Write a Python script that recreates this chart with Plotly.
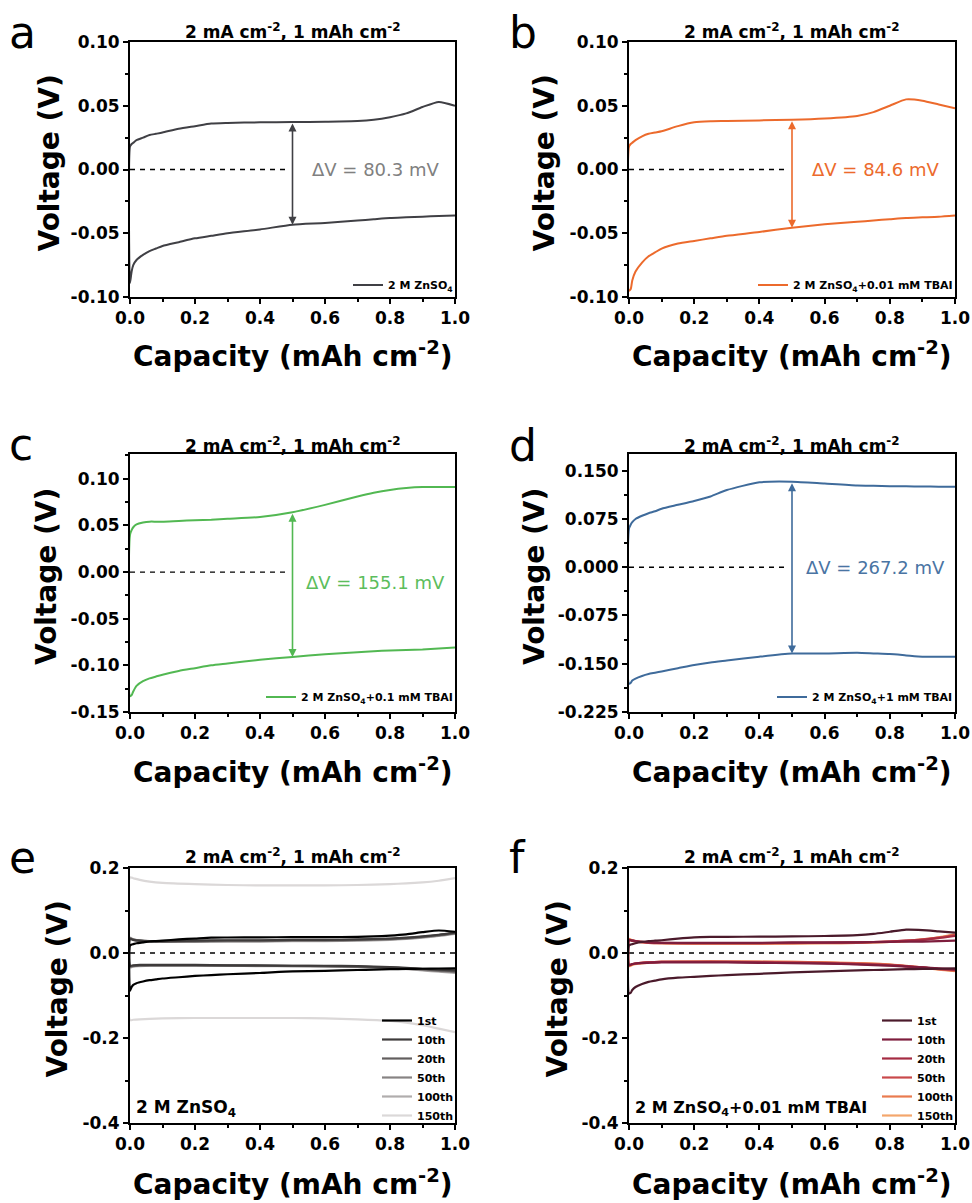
import plotly.graph_objects as go

# the page body margin is removed on load (see post_script), so the figure fills the window
OFF = 0
W, H = 972, 1203

# ---------------- data ----------------
CAP = [0, 0.005, 0.01, 0.02, 0.04, 0.06, 0.08, 0.1, 0.15, 0.2, 0.25, 0.3,
       0.4, 0.5, 0.6, 0.7, 0.75, 0.8, 0.85, 0.9, 0.95, 1.0]

# panel a: 2 M ZnSO4
A_UP = [0.018, 0.020, 0.021, 0.023, 0.025, 0.027, 0.028, 0.029, 0.032, 0.034, 0.036, 0.0365,
        0.037, 0.0372, 0.0375, 0.038, 0.039, 0.041, 0.044, 0.049, 0.053, 0.050]
A_DN = [-0.089, -0.080, -0.075, -0.071, -0.067, -0.064, -0.062, -0.060, -0.057, -0.054, -0.052, -0.050,
        -0.047, -0.0433, -0.042, -0.040, -0.039, -0.038, -0.0375, -0.037, -0.0365, -0.036]
# panel b: + 0.01 mM TBAI
B_UP = [0.018, 0.020, 0.021, 0.023, 0.026, 0.028, 0.029, 0.030, 0.034, 0.037, 0.0378, 0.038,
        0.0385, 0.039, 0.040, 0.042, 0.045, 0.050, 0.055, 0.054, 0.051, 0.048]
B_DN = [-0.095, -0.094, -0.087, -0.080, -0.073, -0.068, -0.065, -0.062, -0.058, -0.056, -0.054, -0.052,
        -0.049, -0.0456, -0.043, -0.041, -0.040, -0.039, -0.038, -0.0375, -0.037, -0.036]
# panel c: + 0.1 mM TBAI
C_UP = [0.040, 0.045, 0.048, 0.051, 0.053, 0.054, 0.054, 0.054, 0.0548, 0.0555, 0.056, 0.057,
        0.059, 0.0641, 0.072, 0.081, 0.085, 0.088, 0.090, 0.091, 0.091, 0.091]
C_DN = [-0.133, -0.132, -0.128, -0.122, -0.117, -0.114, -0.112, -0.110, -0.106, -0.103, -0.100, -0.098,
        -0.094, -0.091, -0.088, -0.086, -0.085, -0.084, -0.0835, -0.083, -0.082, -0.081]
# panel d: + 1 mM TBAI
D_UP = [0.060, 0.066, 0.070, 0.075, 0.080, 0.084, 0.087, 0.091, 0.097, 0.103, 0.110, 0.120,
        0.132, 0.133, 0.130, 0.127, 0.1265, 0.126, 0.1258, 0.1255, 0.1252, 0.125]
D_DN = [-0.181, -0.180, -0.176, -0.173, -0.169, -0.166, -0.164, -0.162, -0.157, -0.152, -0.148, -0.145,
        -0.139, -0.1342, -0.134, -0.133, -0.134, -0.135, -0.137, -0.139, -0.139, -0.139]

CAP_CYC = [0, 0.01, 0.03, 0.06, 0.1, 0.2, 0.3, 0.4, 0.5, 0.6, 0.7, 0.8, 0.85, 0.9, 0.95, 1.0]

# panel e: 2 M ZnSO4 cycles (1st cycle = panel a)
E10_UP = [0.033, 0.031, 0.029, 0.028, 0.028, 0.029, 0.030, 0.030, 0.031, 0.031, 0.032, 0.034, 0.036, 0.039, 0.043, 0.048]
E10_DN = [-0.030, -0.029, -0.028, -0.028, -0.028, -0.028, -0.029, -0.029, -0.030, -0.030, -0.031, -0.033, -0.035, -0.037, -0.039, -0.041]
E20_UP = [0.034, 0.031, 0.029, 0.028, 0.027, 0.028, 0.029, 0.029, 0.030, 0.030, 0.031, 0.033, 0.035, 0.038, 0.042, 0.047]
E20_DN = [-0.031, -0.030, -0.029, -0.029, -0.029, -0.029, -0.029, -0.030, -0.030, -0.031, -0.032, -0.034, -0.036, -0.038, -0.041, -0.043]
E50_UP = [0.035, 0.032, 0.029, 0.027, 0.027, 0.027, 0.028, 0.028, 0.029, 0.029, 0.030, 0.032, 0.034, 0.037, 0.041, 0.046]
E50_DN = [-0.032, -0.031, -0.030, -0.029, -0.029, -0.029, -0.030, -0.030, -0.031, -0.031, -0.032, -0.035, -0.037, -0.040, -0.042, -0.045]
E100_UP = [0.036, 0.032, 0.029, 0.027, 0.026, 0.026, 0.027, 0.027, 0.028, 0.028, 0.029, 0.031, 0.033, 0.036, 0.040, 0.045]
E100_DN = [-0.034, -0.032, -0.031, -0.030, -0.030, -0.030, -0.030, -0.031, -0.031, -0.032, -0.033, -0.036, -0.038, -0.041, -0.044, -0.047]
E150_UP = [0.178, 0.176, 0.172, 0.168, 0.165, 0.162, 0.160, 0.159, 0.159, 0.159, 0.160, 0.162, 0.164, 0.166, 0.170, 0.176]
E150_DN = [-0.158, -0.157, -0.156, -0.155, -0.154, -0.153, -0.153, -0.153, -0.153, -0.154, -0.156, -0.160, -0.164, -0.170, -0.178, -0.186]

# panel f: + 0.01 mM TBAI cycles (1st cycle = panel b)
F10_UP = [0.030, 0.029, 0.027, 0.025, 0.024, 0.024, 0.024, 0.024, 0.025, 0.025, 0.025, 0.026, 0.027, 0.027, 0.028, 0.029]
F10_DN = [-0.028, -0.026, -0.024, -0.023, -0.022, -0.022, -0.022, -0.023, -0.024, -0.025, -0.027, -0.030, -0.032, -0.034, -0.036, -0.038]
F20_UP = [0.031, 0.029, 0.027, 0.025, 0.024, 0.023, 0.023, 0.023, 0.024, 0.024, 0.025, 0.027, 0.029, 0.031, 0.035, 0.040]
F20_DN = [-0.029, -0.026, -0.024, -0.022, -0.021, -0.021, -0.021, -0.022, -0.023, -0.024, -0.026, -0.029, -0.031, -0.034, -0.037, -0.040]
F50_UP = [0.031, 0.029, 0.026, 0.024, 0.023, 0.023, 0.023, 0.023, 0.023, 0.024, 0.025, 0.027, 0.029, 0.032, 0.036, 0.042]
F50_DN = [-0.029, -0.026, -0.024, -0.022, -0.021, -0.021, -0.021, -0.021, -0.022, -0.023, -0.025, -0.028, -0.031, -0.034, -0.038, -0.041]
F100_UP = [0.032, 0.029, 0.026, 0.024, 0.023, 0.022, 0.022, 0.022, 0.023, 0.023, 0.024, 0.026, 0.028, 0.031, 0.036, 0.043]
F100_DN = [-0.030, -0.027, -0.024, -0.022, -0.021, -0.020, -0.020, -0.021, -0.021, -0.022, -0.024, -0.027, -0.030, -0.034, -0.038, -0.042]
F150_UP = [0.033, 0.030, 0.027, 0.025, 0.023, 0.022, 0.022, 0.022, 0.022, 0.023, 0.024, 0.026, 0.028, 0.032, 0.037, 0.044]
F150_DN = [-0.031, -0.028, -0.025, -0.023, -0.021, -0.020, -0.020, -0.020, -0.021, -0.022, -0.024, -0.027, -0.031, -0.035, -0.039, -0.043]

CYCLE_NAMES = ["1st", "10th", "20th", "50th", "100th", "150th"]

X_TICKS = [0, 0.2, 0.4, 0.6, 0.8, 1.0]
X_TICKTEXT = ["0.0", "0.2", "0.4", "0.6", "0.8", "1.0"]
Y_TICKS_AB = [-0.10, -0.05, 0.0, 0.05, 0.10]
Y_TICKTEXT_AB = ["-0.10", "-0.05", "0.00", "0.05", "0.10"]
Y_TICKS_C = [-0.15, -0.10, -0.05, 0.0, 0.05, 0.10]
Y_TICKTEXT_C = ["-0.15", "-0.10", "-0.05", "0.00", "0.05", "0.10"]
Y_TICKS_D = [-0.225, -0.150, -0.075, 0.0, 0.075, 0.150]
Y_TICKTEXT_D = ["-0.225", "-0.150", "-0.075", "0.000", "0.075", "0.150"]
Y_TICKS_EF = [-0.4, -0.2, 0.0, 0.2]
Y_TICKTEXT_EF = ["-0.4", "-0.2", "0.0", "0.2"]

DELTA_V = ["ΔV = 80.3 mV", "ΔV = 84.6 mV", "ΔV = 155.1 mV", "ΔV = 267.2 mV"]
LABELS = ["2 M ZnSO<sub>4</sub>", "2 M ZnSO<sub>4</sub>+0.01 mM TBAI",
          "2 M ZnSO<sub>4</sub>+0.1 mM TBAI", "2 M ZnSO<sub>4</sub>+1 mM TBAI"]
TITLE = "2 mA cm<sup>-2</sup>, 1 mAh cm<sup>-2</sup>"
XTITLE = "Capacity (mAh cm<sup>-2</sup>)"
YTITLE = "Voltage (V)"

# ---------------- styling / layout ----------------
FONT = "DejaVu Sans"
COLORS = ["#404045", "#ec6a2c", "#52b852", "#3f6b9b"]
TEXT_COLORS = ["#808080", "#ec6a2c", "#5cbd5c", "#4a74a3"]
E_COLORS = ["#000000", "#3e3b3b", "#625e5e", "#878383", "#b0adad", "#dbd8d8"]
F_COLORS = ["#4b1a2b", "#7e1d3d", "#a52b42", "#c9494b", "#ea7b4f", "#f4a66c"]

# plot boxes in window pixels: (left, right, top, bottom)
BOX = [(130, 455, 42, 297), (629, 955, 42, 297),
       (130, 455, 454, 712), (629, 955, 454, 712),
       (130, 455, 868, 1123), (629, 955, 868, 1123)]
YRANGES = [[-0.10, 0.10], [-0.10, 0.10], [-0.15, 0.1265], [-0.225, 0.176], [-0.4, 0.2], [-0.4, 0.2]]
YTICKS = [(Y_TICKS_AB, Y_TICKTEXT_AB, 0.025), (Y_TICKS_AB, Y_TICKTEXT_AB, 0.025),
          (Y_TICKS_C, Y_TICKTEXT_C, 0.025), (Y_TICKS_D, Y_TICKTEXT_D, 0.0375),
          (Y_TICKS_EF, Y_TICKTEXT_EF, 0.1), (Y_TICKS_EF, Y_TICKTEXT_EF, 0.1)]
LETTERS = ["a", "b", "c", "d", "e", "f"]


def px(xp):
    return (xp - OFF) / W


def py(yp):
    return 1 - (yp - OFF) / H


fig = go.Figure()
layout = dict(width=W, height=H, margin=dict(l=0, r=0, t=0, b=0, autoexpand=False),
              paper_bgcolor="white", plot_bgcolor="white", showlegend=True,
              font=dict(family=FONT, color="black"))
annotations = []

for i in range(6):
    l, r, t, b = BOX[i]
    xa = "xaxis" if i == 0 else f"xaxis{i+1}"
    ya = "yaxis" if i == 0 else f"yaxis{i+1}"
    xr = "x" if i == 0 else f"x{i+1}"
    yr = "y" if i == 0 else f"y{i+1}"
    tv, tt, mdt = YTICKS[i]
    axis_common = dict(showline=True, linecolor="black", linewidth=2, mirror=True,
                       showgrid=False, zeroline=False, ticks="outside", ticklen=5,
                       tickwidth=2, tickcolor="black", automargin=False,
                       tickfont=dict(family=FONT, size=17, color="black", weight="bold"))
    layout[xa] = dict(domain=[px(l), px(r)], anchor=yr, range=[0, 1],
                      tickmode="array", tickvals=X_TICKS, ticktext=X_TICKTEXT,
                      minor=dict(tickmode="linear", tick0=0, dtick=0.1, ticklen=3,
                                 tickwidth=1.5, tickcolor="black", ticks="outside"),
                      **axis_common)
    layout[ya] = dict(domain=[py(b), py(t)], anchor=xr, range=YRANGES[i],
                      tickmode="array", tickvals=tv, ticktext=tt,
                      minor=dict(tickmode="linear", tick0=0, dtick=mdt, ticklen=3,
                                 tickwidth=1.5, tickcolor="black", ticks="outside"),
                      **axis_common)
    lg = "legend" if i == 0 else f"legend{i+1}"

    # legend placement
    if i < 4:
        legend_y = 285 if i < 2 else 697
        layout[lg] = dict(x=px(r + 3), xanchor="right", y=py(legend_y), yanchor="middle",
                          bgcolor="rgba(0,0,0,0)", borderwidth=0,
                          font=dict(family=FONT, size=11, color="black", weight="bold"),
                          tracegroupgap=0, itemwidth=30)
    else:
        layout[lg] = dict(x=px(r + 4), xanchor="right", y=py(1068), yanchor="middle",
                          bgcolor="rgba(0,0,0,0)", borderwidth=0,
                          font=dict(family=FONT, size=11, color="black", weight="bold"),
                          tracegroupgap=0, itemwidth=30)

    # dashed zero line
    x_end = 0.483 if i < 4 else 1.0
    fig.add_trace(go.Scatter(x=[0, x_end], y=[0, 0], mode="lines", xaxis=xr, yaxis=yr,
                             line=dict(color="black", width=1.3, dash="5px,5px"),
                             showlegend=False, hoverinfo="skip"))

    # panel letter (baseline positions)
    letter_base = [47, 47, 459, 460, 872, 872][i]
    annotations.append(dict(text=LETTERS[i], x=px(7 if i % 2 == 0 else 507),
                            y=py(letter_base - 15),
                            xref="paper", yref="paper", xanchor="left", yanchor="middle",
                            showarrow=False,
                            font=dict(family=FONT, size=44, color="black")))
    # subplot title
    title_base = [33, 33, 447, 447, 858, 858][i]
    annotations.append(dict(text=TITLE, x=px((l + r) / 2), y=py(title_base - 2),
                            xref="paper", yref="paper", xanchor="center", yanchor="middle",
                            showarrow=False,
                            font=dict(family=FONT, size=17, color="black", weight="bold")))
    # x axis title
    xt_base = [366, 366, 782, 782, 1194, 1194][i]
    annotations.append(dict(text=XTITLE, x=px((l + r) / 2), y=py(xt_base - 12),
                            xref="paper", yref="paper", xanchor="center", yanchor="middle",
                            showarrow=False,
                            font=dict(family=FONT, size=28, color="black", weight="bold")))
    # y axis title
    yt_x = [49, 544, 46, 534, 57, 557][i]
    annotations.append(dict(text=YTITLE, x=px(yt_x), y=py((t + b) / 2 - 6),
                            xref="paper", yref="paper", xanchor="center", yanchor="middle",
                            textangle=-90, showarrow=False,
                            font=dict(family=FONT, size=28, color="black", weight="bold")))

# panels a-d: single cell traces
UPS = [A_UP, B_UP, C_UP, D_UP]
DNS = [A_DN, B_DN, C_DN, D_DN]
for i in range(4):
    xr = "x" if i == 0 else f"x{i+1}"
    yr = "y" if i == 0 else f"y{i+1}"
    lg = "legend" if i == 0 else f"legend{i+1}"
    xs = CAP[::-1] + CAP
    ys = UPS[i][::-1] + DNS[i]
    fig.add_trace(go.Scatter(x=xs, y=ys, mode="lines", name=LABELS[i], xaxis=xr, yaxis=yr,
                             legend=lg, line=dict(color=COLORS[i], width=2,
                                                  shape="spline", smoothing=0.6)))
    mid = CAP.index(0.5)
    annotations.append(dict(x=0.5, y=DNS[i][mid], ax=0.5, ay=UPS[i][mid], xref=xr, yref=yr,
                            axref=xr, ayref=yr, showarrow=True, arrowhead=2, arrowside="end+start",
                            arrowsize=1, arrowwidth=1.6, arrowcolor=COLORS[i], text=""))
    annotations.append(dict(x=0.755, y=(-0.011 if i == 2 else 0.0), xref=xr, yref=yr,
                            text=DELTA_V[i], showarrow=False, xanchor="center", yanchor="middle",
                            font=dict(family=FONT, size=18, color=TEXT_COLORS[i])))

# panels e, f: cycles
E_SERIES = [(A_UP, A_DN, CAP), (E10_UP, E10_DN, CAP_CYC), (E20_UP, E20_DN, CAP_CYC),
            (E50_UP, E50_DN, CAP_CYC), (E100_UP, E100_DN, CAP_CYC), (E150_UP, E150_DN, CAP_CYC)]
F_SERIES = [(B_UP, B_DN, CAP), (F10_UP, F10_DN, CAP_CYC), (F20_UP, F20_DN, CAP_CYC),
            (F50_UP, F50_DN, CAP_CYC), (F100_UP, F100_DN, CAP_CYC), (F150_UP, F150_DN, CAP_CYC)]
for k, (series, colors, xr, yr, lg) in enumerate([(E_SERIES, E_COLORS, "x5", "y5", "legend5"),
                                                   (F_SERIES, F_COLORS, "x6", "y6", "legend6")]):
    for j in range(5, -1, -1):
        up, dn, cx = series[j]
        fig.add_trace(go.Scatter(x=cx[::-1] + cx, y=up[::-1] + dn, mode="lines",
                                 name=CYCLE_NAMES[j], xaxis=xr, yaxis=yr, legend=lg,
                                 legendrank=j + 1,
                                 line=dict(color=colors[j], width=2.2,
                                           shape="spline", smoothing=0.6)))

annotations.append(dict(text="2 M ZnSO<sub>4</sub>", x=0.012, y=-0.365, xref="x5", yref="y5",
                        xanchor="left", yanchor="middle", showarrow=False,
                        font=dict(family=FONT, size=17, color="black", weight="bold")))
annotations.append(dict(text="2 M ZnSO<sub>4</sub>+0.01 mM TBAI", x=0.012, y=-0.365, xref="x6", yref="y6",
                        xanchor="left", yanchor="middle", showarrow=False,
                        font=dict(family=FONT, size=16, color="black", weight="bold")))

layout["annotations"] = annotations
fig.update_layout(**layout)
fig.write_html("out.html", config={"displayModeBar": False},
               post_script="document.body.style.margin='0';document.body.style.overflow='hidden';")
